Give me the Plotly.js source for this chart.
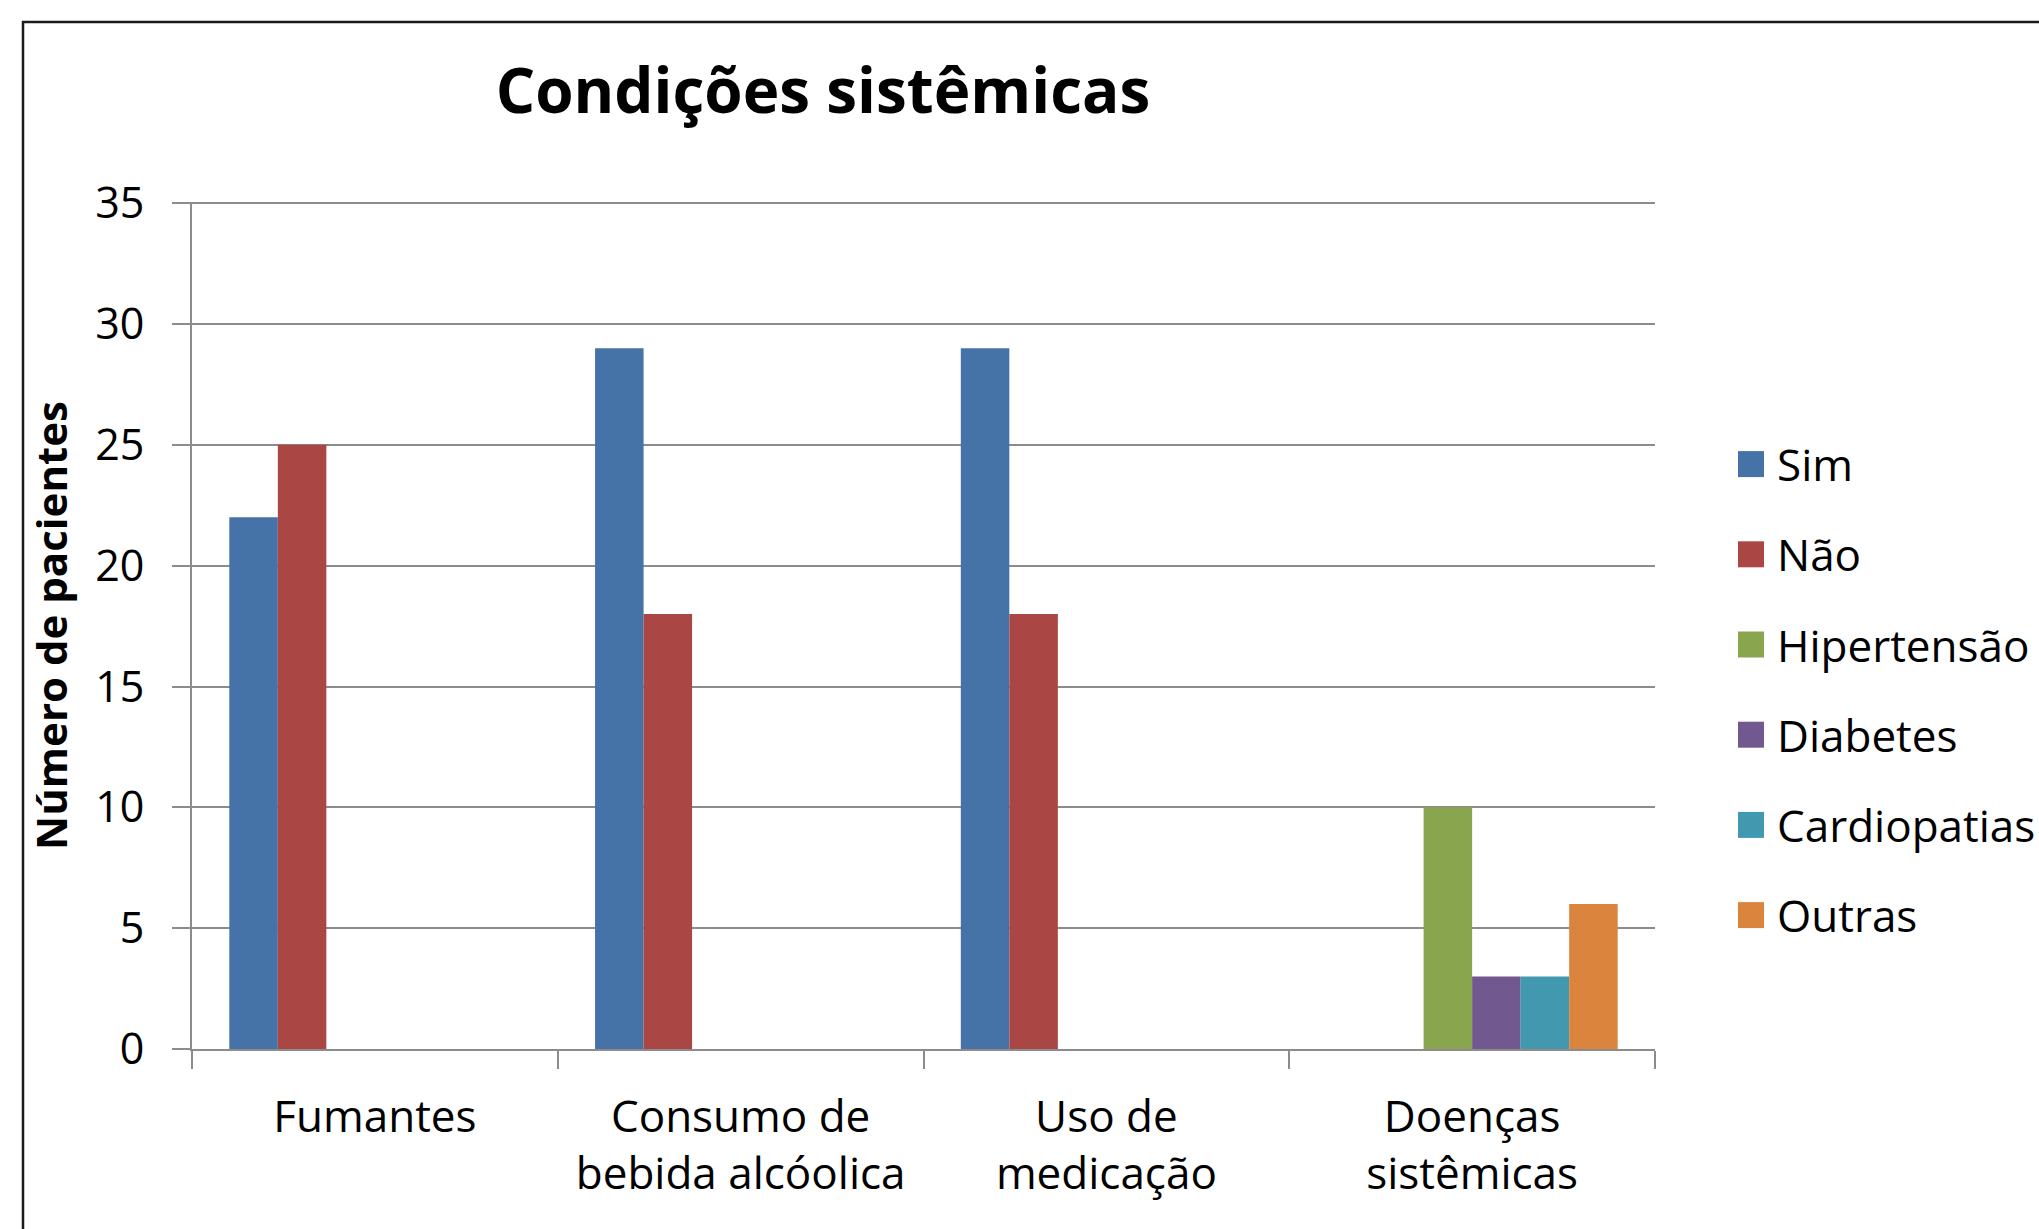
<!DOCTYPE html>
<html>
<head>
<meta charset="utf-8">
<script src="https://cdn.plot.ly/plotly-3.0.1.min.js"></script>
<style>
html,body{margin:0;padding:0;background:#fff;}
#chart{width:2039px;height:1229px;}
</style>
</head>
<body>
<div id="chart"></div>
<script>
// ---- data ----
const categories = ["Fumantes", "Consumo de<br>bebida alcóolica", "Uso de<br>medicação", "Doenças<br>sistêmicas"];
const seriesNames = ["Sim", "Não", "Hipertensão", "Diabetes", "Cardiopatias", "Outras"];
const sim          = [22, 29, 29, null];
const nao          = [25, 18, 18, null];
const hipertensao  = [null, null, null, 10];
const diabetes     = [null, null, null, 3];
const cardiopatias = [null, null, null, 3];
const outras       = [null, null, null, 6];
const yTickValues  = [0, 5, 10, 15, 20, 25, 30, 35];
const chartTitle   = "Condições sistêmicas";
const yTitle       = "Número de pacientes";

// ---- style ----
const colors = ["#4572A7", "#AA4643", "#89A54E", "#71588F", "#4198AF", "#DB843D"];
const seriesValues = [sim, nao, hipertensao, diabetes, cardiopatias, outras];
const FONT = "Open Sans, Noto Sans, sans-serif";
const GRID = "#8c8c8c";

const traces = seriesValues.map((vals, i) => ({
  type: "bar",
  name: seriesNames[i],
  x: categories,
  y: vals,
  legendgroup: "g" + i,
  marker: {color: colors[i], line: {width: 0}},
  hoverinfo: "x+y+name"
}));

const W = 2039, H = 1229;
const L = 192, R = 2039 - 1655, T = 202, B = 1229 - 1049;
const pw = W - L - R, ph = H - T - B;
const px = v => (v - L) / pw;
const py = v => (H - B - v) / ph;

const layout = {
  width: W, height: H,
  paper_bgcolor: "#ffffff",
  plot_bgcolor: "#ffffff",
  margin: {l: L, r: R, t: T, b: B, pad: 0, autoexpand: false},
  font: {family: FONT, color: "#000", size: 40},
  title: {
    text: "<b>" + chartTitle + "</b>",
    font: {family: FONT, size: 62, color: "#000"},
    xref: "container", yref: "container",
    x: 823 / W, y: 1 - 91 / H, xanchor: "center", yanchor: "middle"
  },
  barmode: "group",
  bargap: 0.204,
  bargroupgap: 0,
  showlegend: true,
  legend: {
    x: px(1737), y: py(690), xanchor: "left", yanchor: "middle",
    font: {family: FONT, size: 44, color: "#000"},
    tracegroupgap: 30,
    itemclick: false, itemdoubleclick: false,
    bgcolor: "rgba(0,0,0,0)",
    valign: "middle"
  },
  xaxis: {
    type: "category",
    showgrid: false,
    showline: true, linecolor: GRID, linewidth: 2,
    ticks: "outside", tickson: "boundaries", ticklen: 18, tickcolor: GRID, tickwidth: 2,
    ticklabelstandoff: 28,
    tickfont: {family: FONT, size: 44, color: "#000"},
    zeroline: false,
    automargin: false,
    fixedrange: true
  },
  yaxis: {
    range: [0, 35.05],
    tickvals: yTickValues,
    ticktext: yTickValues.map(String),
    showgrid: true, gridcolor: GRID, gridwidth: 2,
    showline: true, linecolor: GRID, linewidth: 2,
    ticks: "outside", ticklen: 18, tickcolor: GRID, tickwidth: 2,
    ticklabelstandoff: 19,
    tickfont: {family: FONT, size: 43, color: "#000"},
    zeroline: false,
    title: {text: "<b>" + yTitle + "</b>", font: {family: FONT, size: 42, color: "#000"}, standoff: 15},
    automargin: false,
    fixedrange: true
  },
  shapes: [{
    type: "rect", xref: "paper", yref: "paper",
    x0: px(23), x1: px(2060), y0: py(1260), y1: py(22),
    line: {color: "#1a1a1a", width: 2.5}, fillcolor: "rgba(0,0,0,0)", layer: "below"
  }]
};

function enlargeLegendSymbols(gd) {
  gd.querySelectorAll(".legend .legendpoints path").forEach(p => {
    p.setAttribute("d", "M13,13H-13V-13H13Z");
    p.setAttribute("transform", "translate(14,0)");
  });
}

const gdEl = document.getElementById("chart");
Plotly.newPlot(gdEl, traces, layout, {displayModeBar: false, responsive: false}).then(gd => {
  enlargeLegendSymbols(gd);
  gd.on("plotly_afterplot", () => enlargeLegendSymbols(gd));
});
enlargeLegendSymbols(gdEl);
</script>
</body>
</html>
